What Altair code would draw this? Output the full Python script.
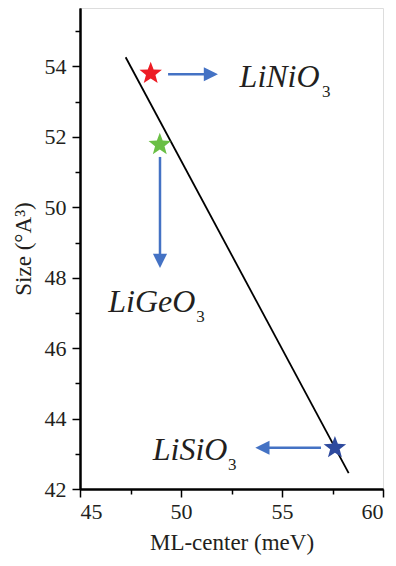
import altair as alt
import pandas as pd

# ---- data ----
compounds = ["LiNiO", "LiGeO", "LiSiO"]
star_x = [48.5, 48.95, 57.62]
star_y = [53.8, 51.78, 43.17]
star_colors = ["#ed1c24", "#6abf45", "#2e4a9e"]

# fit line end points
line_x = [47.26, 58.3]
line_y = [54.26, 42.45]

# arrows: shaft start, shaft end, head centre, head angle
arrow_x1 = [49.36, 48.96, 56.93]
arrow_y1 = [53.78, 51.43, 43.17]
arrow_x2 = [51.3, 48.96, 54.2]
arrow_y2 = [53.78, 48.6, 43.17]
head_x = [51.48, 48.96, 54.03]
head_y = [53.78, 48.48, 43.17]
head_angle = [0, 90, 180]

# labels (main text and subscript)
label_x = [52.9, 46.4, 48.6]
label_y = [53.42, 47.03, 42.82]
sub_text = ["3", "3", "3"]
sub_x = [56.98, 50.75, 52.33]
sub_y = [53.14, 46.74, 42.54]

x_major = [45, 50, 55, 60]
x_minor = [47.5, 52.5, 57.5]
y_major = [42, 44, 46, 48, 50, 52, 54]
y_minor = [43, 45, 47, 49, 51, 53, 55]

FONT = "Liberation Serif"
INK = "#231f20"
ARROW = "#4472c4"

xs = alt.Scale(domain=[45, 60], nice=False, zero=False)
ys = alt.Scale(domain=[42, 55.66], nice=False, zero=False)

star_path = ("M0,-1L0.2469,-0.3398L0.9511,-0.309L0.3995,0.1298L0.5878,0.809"
             "L0,0.42L-0.5878,0.809L-0.3995,0.1298L-0.9511,-0.309L-0.2469,-0.3398Z")
head_path = "M-1,-1L1,0L-1,1Z"

line_df = pd.DataFrame({"x": line_x, "y": line_y})
stars_df = pd.DataFrame({"x": star_x, "y": star_y, "c": star_colors, "name": compounds})
arrows_df = pd.DataFrame({"x": arrow_x1, "y": arrow_y1, "x2": arrow_x2, "y2": arrow_y2})
heads_df = pd.DataFrame({"x": head_x, "y": head_y, "a": head_angle})
labels_df = pd.DataFrame({"x": label_x, "y": label_y, "t": compounds})
subs_df = pd.DataFrame({"x": sub_x, "y": sub_y, "t": sub_text})

axis_common = dict(domainColor="black", domainWidth=2, tickColor="black", tickWidth=1.5,
                   grid=False, labelFont=FONT, labelFontSize=22, labelColor=INK,
                   titleFont=FONT, titleColor=INK, titleFontWeight="normal")

line = alt.Chart(line_df).mark_line(color="black", strokeWidth=1.8).encode(
    x=alt.X("x:Q", scale=xs, axis=alt.Axis(values=x_major, tickSize=8, labelPadding=4,
                                            title="ML-center (meV)", titlePadding=9,
                                            titleFontSize=23,
                                            orient="bottom", format="d", **axis_common)),
    y=alt.Y("y:Q", scale=ys, axis=alt.Axis(values=y_major, tickSize=8, labelPadding=6,
                                            title="Size (°A³)", titlePadding=9,
                                            titleFontSize=23,
                                            orient="left", format="d", **axis_common)),
)

minor = alt.Chart(stars_df).mark_point(opacity=0).encode(
    x=alt.X("x:Q", scale=xs, axis=alt.Axis(values=x_minor, tickSize=5, labels=False,
                                            title=None, orient="bottom", **axis_common)),
    y=alt.Y("y:Q", scale=ys, axis=alt.Axis(values=y_minor, tickSize=5, labels=False,
                                            title=None, orient="left", **axis_common)),
)

shafts = alt.Chart(arrows_df).mark_rule(color=ARROW, strokeWidth=2.5).encode(
    x=alt.X("x:Q", scale=xs, axis=None), y=alt.Y("y:Q", scale=ys, axis=None),
    x2="x2:Q", y2="y2:Q",
)

heads = alt.Chart(heads_df).mark_point(shape=head_path, filled=True, color=ARROW,
                                       opacity=1, size=200).encode(
    x=alt.X("x:Q", scale=xs, axis=None), y=alt.Y("y:Q", scale=ys, axis=None),
    angle=alt.Angle("a:Q", scale=None),
)

stars = alt.Chart(stars_df).mark_point(shape=star_path, filled=True, opacity=1,
                                       size=560).encode(
    x=alt.X("x:Q", scale=xs, axis=None), y=alt.Y("y:Q", scale=ys, axis=None),
    color=alt.Color("c:N", scale=None),
)

labels = alt.Chart(labels_df).mark_text(font=FONT, fontStyle="italic", fontSize=32,
                                        color=INK, align="left", baseline="alphabetic").encode(
    x=alt.X("x:Q", scale=xs, axis=None), y=alt.Y("y:Q", scale=ys, axis=None), text="t:N",
)

subs = alt.Chart(subs_df).mark_text(font=FONT, fontSize=17, color=INK, align="left",
                                    baseline="alphabetic").encode(
    x=alt.X("x:Q", scale=xs, axis=None), y=alt.Y("y:Q", scale=ys, axis=None), text="t:N",
)

chart = alt.layer(line, minor, shafts, heads, stars, labels, subs).resolve_axis(
    x="independent", y="independent"
).properties(
    width=303, height=481,
    autosize=alt.AutoSizeParams(type="none"),
    padding={"left": 72, "top": 0, "right": 5, "bottom": 70},
).configure_view(stroke="black", strokeWidth=2).configure(background="white")

chart.save("out.html", embed_options={"renderer": "svg", "actions": False})
